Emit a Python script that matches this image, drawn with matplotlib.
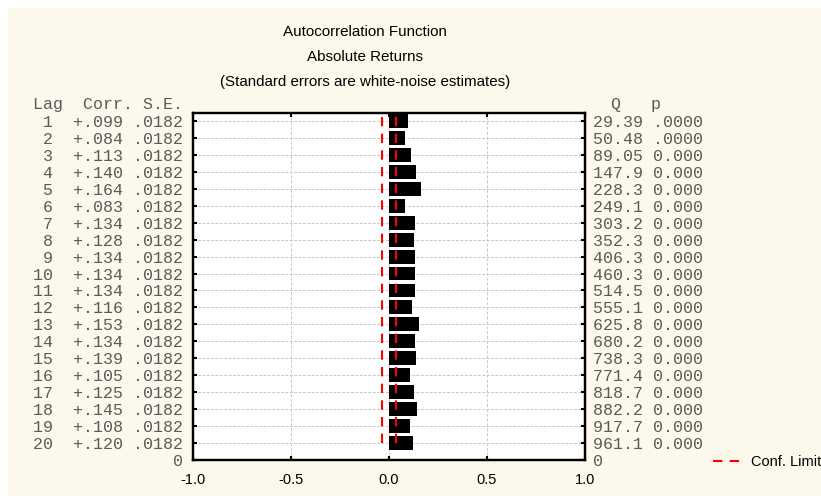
import numpy as np
import matplotlib.pyplot as plt
from matplotlib.patches import Rectangle

# autocorrelation table
lags = list(range(1, 21))
corr = [.099, .084, .113, .140, .164, .083, .134, .128, .134, .134,
        .134, .116, .153, .134, .139, .105, .125, .145, .108, .120]
se = [.0182] * 20
q_stat = [29.39, 50.48, 89.05, 147.9, 228.3, 249.1, 303.2, 352.3, 406.3, 460.3,
          514.5, 555.1, 625.8, 680.2, 738.3, 771.4, 818.7, 882.2, 917.7, 961.1]
p_text = [".0000", ".0000"] + ["0.000"] * 18
x_ticks = [-1.0, -0.5, 0.0, 0.5, 1.0]
titles = ["Autocorrelation Function", "Absolute Returns",
          "(Standard errors are white-noise estimates)"]

mono = "Liberation Mono"
sans = "Liberation Sans"
txt_col = "#5a5a5a"

fig = plt.figure(figsize=(8.21, 4.96), dpi=100)
fig.patch.set_facecolor("white")
fig.patches.append(Rectangle((8 / 821, 0), 1, 1 - 8 / 496, transform=fig.transFigure,
                             facecolor="#fdf8ec", edgecolor="none", zorder=-10))

ax = fig.add_axes([193 / 821, 1 - 460 / 496, 392 / 821, 347 / 496])
ax.set_facecolor("white")

lag_arr = np.array(lags)
corr_arr = np.array(corr)
se_arr = np.array(se)

# grid lines
for lag in lags:
    ax.axhline(lag, color="#c8c8c8", lw=0.7, ls=(0, (3, 1.5)), zorder=1)
for xv in [-0.5, 0.0, 0.5]:
    ax.axvline(xv, color="#c8c8c8", lw=0.7, ls=(0, (3, 2)), zorder=1)

ax.barh(lag_arr, corr_arr, height=0.82, color="black", zorder=2)

# confidence limits (+/- 2 S.E.)
yy = np.concatenate([[0.75], lag_arr])
lim = np.concatenate([[se_arr[0]], se_arr]) * 2
ax.plot(-lim, yy, color="red", lw=1.5, ls=(0, (4.5, 3.5)), zorder=3, label="Conf. Limit")
ax.plot(lim, yy, color="red", lw=1.5, ls=(0, (4.5, 3.5)), zorder=3)

ax.set_xlim(-1, 1)
ax.set_ylim(20.94, 0.53)

for s in ax.spines.values():
    s.set_linewidth(1.6)
    s.set_color("black")

ax.set_xticks(x_ticks)
ax.set_xticklabels(["%.1f" % v for v in x_ticks], fontfamily=sans, fontsize=10.5)
ax.tick_params(axis="x", direction="in", length=3, width=1.5, top=True, pad=9)

row_labels = ["%2d  %s %s" % (l, ("+%.3f" % c).replace("0.", ".", 1),
                              ("%.4f" % s).lstrip("0")) for l, c, s in zip(lags, corr, se)]
ax.set_yticks(lags + [21])
ax.set_yticklabels(row_labels + ["0"], fontfamily=mono, fontsize=12, color=txt_col)
ax.tick_params(axis="y", direction="in", length=3, width=1.5, pad=7)

ax2 = ax.twinx()
ax2.set_ylim(ax.get_ylim())
ax2.set_yticks(lags + [21])
ax2.set_yticklabels(["%s %s" % (("%.2f" % q) if q < 100 else ("%.1f" % q), p)
                     for q, p in zip(q_stat, p_text)] + ["0"],
                    fontfamily=mono, fontsize=12, color=txt_col)
ax2.tick_params(axis="y", direction="in", length=3, width=1.5, pad=6)
for s in ax2.spines.values():
    s.set_linewidth(1.6)

# column headers
tr_l = ax.get_yaxis_transform()
ax.text(-0.025, 0, "Lag  Corr. S.E.", transform=tr_l, ha="right", va="center",
        fontfamily=mono, fontsize=12, color=txt_col, clip_on=False)
ax.text(1.015, 0, "  Q   p", transform=tr_l, ha="left", va="center",
        fontfamily=mono, fontsize=12, color=txt_col, clip_on=False)

for i, t in enumerate(titles):
    fig.text(365 / 821, 1 - (32 + 25 * i) / 496, t, ha="center", va="center",
             fontfamily=sans, fontsize=10.9, color="black")

ax.legend(loc="center left", bbox_to_anchor=(700 / 821, 1 - 462 / 496),
          bbox_transform=fig.transFigure, frameon=False, handlelength=2.0,
          handletextpad=0.6, prop={"family": sans, "size": 10.5})

fig.savefig("out.png", dpi=100)
